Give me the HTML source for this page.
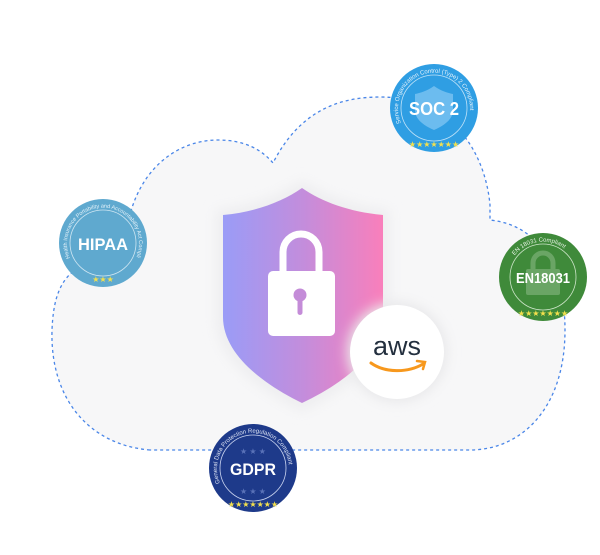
<!DOCTYPE html>
<html><head><style>
html,body{margin:0;padding:0;background:#fff;}
svg{display:block}
text{font-family:"Liberation Sans",sans-serif;}
</style></head><body>
<svg width="600" height="555" viewBox="0 0 600 555" xmlns="http://www.w3.org/2000/svg">
<defs>
<linearGradient id="sg" x1="0" x2="1" y1="0" y2="0">
<stop offset="0" stop-color="#9a9cf7"/><stop offset="0.5" stop-color="#c38ddc"/><stop offset="1" stop-color="#f97fbb"/>
</linearGradient>
<filter id="sh" x="-30%" y="-30%" width="160%" height="160%"><feGaussianBlur stdDeviation="6"/></filter>
<path id="arc" d="M-33,15 A36,36 0 1 1 33,15"/>
</defs>
<path d="M150,450 C90,445 50,400 52,330 C54,280 70,260 125,255 C125,180 170,140 218,140 C245,140 262,150 273,163 C300,110 340,97 380,97 C450,97 485,150 490,205 L490,220 C540,225 565,270 565,330 C565,410 520,450 470,450 Z" fill="#f7f7f8" stroke="#4a86e8" stroke-width="1.3" stroke-dasharray="3,3"/>
<path d="M302,180 C280,196 250,206 216,210 L216,320 C216,360 260,390 302,412 C344,390 390,360 390,320 L390,210 C355,206 325,196 302,180 Z" fill="#eeeef0" filter="url(#sh)"/>
<path d="M302,188 C282,202 255,212 223,215 L223,317 C223,355 265,385 302,403 C340,385 383,355 383,317 L383,215 C350,212 322,202 302,188 Z" fill="url(#sg)"/>
<path d="M283,272 L283,252 A18,18 0 0 1 319,252 L319,272" fill="none" stroke="#fff" stroke-width="7"/>
<rect x="268" y="271" width="67" height="65" rx="5" fill="#fff"/>
<circle cx="300" cy="295" r="6.5" fill="#c48cd8"/>
<rect x="297.5" y="296" width="5" height="19" rx="2.5" fill="#c48cd8"/>
<circle cx="397" cy="352" r="50" fill="#e8e8ea" filter="url(#sh)"/>
<circle cx="397" cy="352" r="47" fill="#fff"/>
<text x="397" y="355" font-size="27" text-anchor="middle" fill="#232f3e">aws</text>
<path d="M371,363 C385,373 408,373 423,364" fill="none" stroke="#f7981d" stroke-width="3" stroke-linecap="round"/>
<path d="M417,361 L425,362 L423,369" fill="none" stroke="#f7981d" stroke-width="2.5" stroke-linecap="round"/>
<g transform="translate(434,108)">
<circle r="44" fill="#2f9ee3"/>
<circle r="33" fill="none" stroke="#bfe2f8" stroke-width="0.8"/>
<path d="M0,-22 C-7,-17 -14,-15 -19,-14 L-19,2 C-19,12 -9,18 0,22 C9,18 19,12 19,2 L19,-14 C14,-15 7,-17 0,-22Z" fill="#6cbcef"/>
<text y="7" font-size="18" font-weight="bold" text-anchor="middle" fill="#fff" textLength="50" lengthAdjust="spacingAndGlyphs">SOC 2</text>
<text font-size="6" fill="#e6f3fc"><textPath href="#arc">Service Organization Control (Type) 2 Compliant</textPath></text>
<text y="39" font-size="8" text-anchor="middle" fill="#f4e04d">★★★★★★★</text>
</g>
<g transform="translate(103,243)">
<circle r="44" fill="#5fa9cf"/>
<circle r="33" fill="none" stroke="#cfe6f2" stroke-width="0.8"/>
<text y="7" font-size="17" font-weight="bold" text-anchor="middle" fill="#fff" textLength="50" lengthAdjust="spacingAndGlyphs">HIPAA</text>
<text font-size="5.5" fill="#e6f3fa"><textPath href="#arc">Health Insurance Portability and Accountability Act Compliant</textPath></text>
<text y="39" font-size="8" text-anchor="middle" fill="#f4e04d">★★★</text>
</g>
<g transform="translate(543,277)">
<circle r="44" fill="#3f8a3a"/>
<circle r="33" fill="none" stroke="#cde5c9" stroke-width="0.8"/>
<rect x="-17" y="-8" width="34" height="26" rx="2" fill="#6aa565"/>
<path d="M-10,-8 L-10,-14 A10,10 0 0 1 10,-14 L10,-8" fill="none" stroke="#6aa565" stroke-width="5"/>
<text y="6" font-size="15" font-weight="bold" text-anchor="middle" fill="#fff" textLength="54" lengthAdjust="spacingAndGlyphs">EN18031</text>
<text font-size="6" fill="#e6f3e4"><textPath href="#arc" startOffset="27%">EN 18031 Compliant</textPath></text>
<text y="39" font-size="8" text-anchor="middle" fill="#f4e04d">★★★★★★★</text>
</g>
<g transform="translate(253,468)">
<circle r="44" fill="#1e3a8a"/>
<circle r="33" fill="none" stroke="#c9d3ef" stroke-width="0.8"/>
<text y="7" font-size="17" font-weight="bold" text-anchor="middle" fill="#fff" textLength="46" lengthAdjust="spacingAndGlyphs">GDPR</text>
<text y="-14" font-size="8" text-anchor="middle" fill="#5a72b8">★ ★ ★</text>
<text y="26" font-size="8" text-anchor="middle" fill="#5a72b8">★ ★ ★</text>
<text font-size="6" fill="#dfe5f5"><textPath href="#arc">General Data Protection Regulation Compliant</textPath></text>
<text y="39" font-size="8" text-anchor="middle" fill="#f4e04d">★★★★★★★</text>
</g>
</svg>
</body></html>
